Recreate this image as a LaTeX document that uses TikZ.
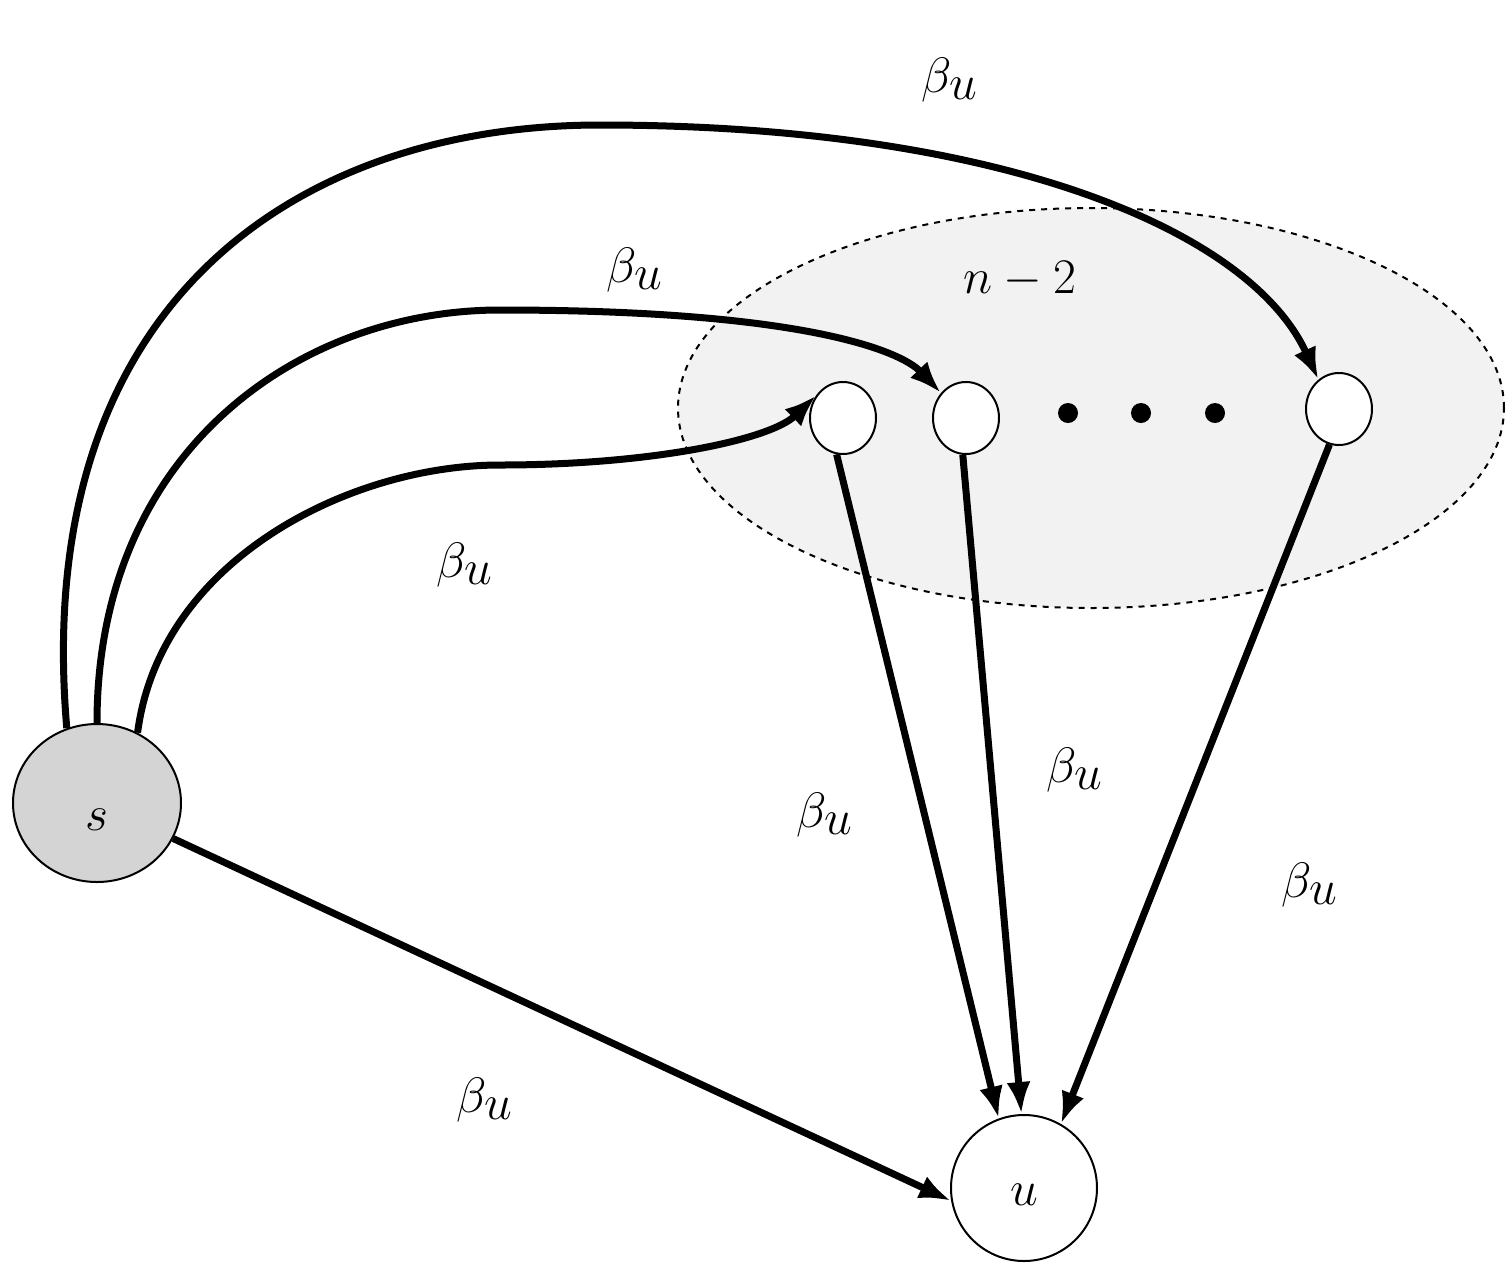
\documentclass[tikz,border=0pt]{standalone}
\usetikzlibrary{arrows.meta,shapes.geometric}
\begin{document}
\begin{tikzpicture}[x=0.5pt,y=-0.5pt,
 edge/.style={line width=3.5pt,-{Latex[length=16pt,width=12pt]}},
 sm/.style={draw,line width=1pt,fill=white,ellipse,minimum width=33pt,minimum height=36pt,inner sep=0pt},
 lab/.style={font=\fontsize{40}{48}\selectfont}]
\useasboundingbox (0,0) rectangle (1512,1271);
\node[draw,dashed,line width=1pt,fill=black!5,ellipse,minimum width=413pt,minimum height=200pt] (grp) at (1091,408) {};
\node[draw,line width=1pt,fill=black!17,ellipse,minimum width=84pt,minimum height=79pt,inner sep=0pt] (s) at (97,803) {};
\node[lab] at (97,820) {$s$};
\node[draw,line width=1pt,fill=white,circle,minimum size=73pt,inner sep=0pt] (u) at (1024,1188) {};
\node[lab] at (1024,1195) {$u$};
\node[sm] (a) at (843,418) {};
\node[sm] (b) at (966,418) {};
\node[sm] (c) at (1339,409) {};
\foreach \x/\n in {1068/d1,1141/d2,1215/d3} \fill (\x,413) circle (5pt) node(\n){};
\node[lab] at (1020,280) {$n-2$};
\draw[edge] (s.-25) -- (u.190);
\draw[edge] (a.-100) -- (u.110);
\draw[edge] (b.-95) -- (u.92);
\draw[edge] (c.-105) -- (u.60);
\draw[edge] (s.112) .. controls (30,300) and (300,125) .. (600,125) .. controls (1000,125) and (1250,230) .. (c.125);
\draw[edge] (s.90) .. controls (97,450) and (300,310) .. (500,310) .. controls (800,310) and (900,350) .. (b.135);
\draw[edge] (s.60) .. controls (160,560) and (350,465) .. (500,465) .. controls (650,465) and (770,440) .. (a.140);
\foreach \p in {(950,80),(635,270),(465,565),(825,815),(1075,770),(1310,885),(485,1100)}
 \node[lab] at \p {$\beta_u$};
\end{tikzpicture}
\end{document}
